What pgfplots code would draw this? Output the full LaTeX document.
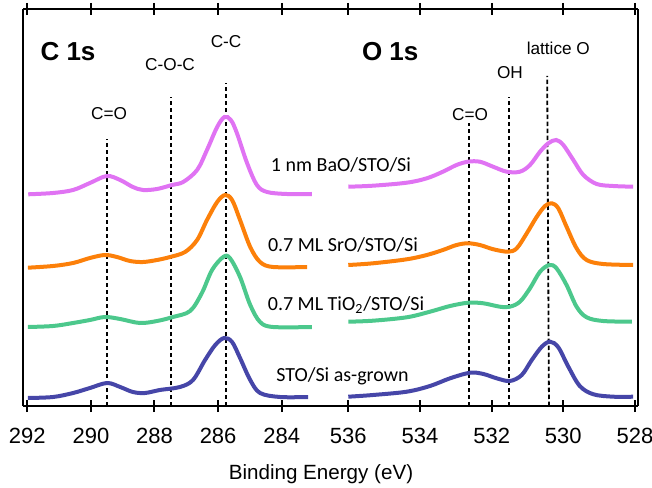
\documentclass[border=0pt]{standalone}
\usepackage{pgfplots}
\pgfplotsset{compat=1.18}
\usepackage{fontspec}
\setmainfont{Liberation Sans}
\newfontfamily\calibri{Carlito}

\definecolor{cBaO}{RGB}{224,115,243}
\definecolor{cSrO}{RGB}{252,128,10}
\definecolor{cTiO}{RGB}{76,200,140}
\definecolor{cSTO}{RGB}{70,70,168}

\pgfplotsset{
  xps/.style={
    scale only axis, height=198.5pt,
    ymin=0, ymax=397, ytick=\empty,
    x dir=reverse,
    axis line style={line width=1pt},
    every tick/.style={black, line width=1pt},
    tick align=center, major tick length=6pt,
    xtick pos=both, xticklabel pos=lower,
    tick label style={font=\fontsize{11}{13}\selectfont},
    xticklabel style={yshift=-4.5pt},
    /pgf/number format/assume math mode=true,
    clip=false,
  },
  spec/.style={smooth, tension=0.55, line width=2pt, no markers},
  ref/.style={black, line width=0.9pt, dash pattern=on 2.2pt off 1.3pt},
}
\tikzset{ann/.style={font=\fontsize{8.6}{10}\selectfont}}

\begin{document}
\begin{tikzpicture}
\path[use as bounding box] (0,0) rectangle (326pt,243.5pt);

% C 1s
\begin{axis}[xps, at={(11.5pt,40.5pt)}, anchor=south west, width=156pt,
  xmin=282.324, xmax=292.135, xtick={284,286,288,290,292},
  axis x line*=box, axis y line*=left]
\addplot[ref] coordinates {(289.50,0) (289.50,267)};
\addplot[ref] coordinates {(287.48,0) (287.48,309)};
\addplot[ref] coordinates {(285.76,0) (285.76,323)};
\addplot[spec, cBaO] coordinates {
(291.97,211.7) (291.19,213) (290.56,216) (290.03,223) (289.50,230) (289.08,226)
(288.68,219) (288.36,216) (287.92,217) (287.45,221) (287.10,224) (286.66,236)
(286.35,256) (286.03,279) (285.80,289) (285.60,286) (285.41,273) (285.09,243)
(284.78,221) (284.46,214) (283.84,212) (283.05,212)};
\addplot[spec, cSrO] coordinates {
(291.98,138.3) (291.19,140) (290.56,143) (290.03,148) (289.56,151) (289.18,149)
(288.77,145) (288.36,144) (287.92,146) (287.51,149) (287.04,154) (286.66,166)
(286.35,186) (286.03,204) (285.78,211) (285.56,206) (285.31,186) (284.99,159)
(284.68,144) (284.27,139) (283.20,139)};
\addplot[spec, cTiO] coordinates {
(291.98,79) (291.19,80) (290.56,83) (290.03,86) (289.56,89) (289.08,87)
(288.46,83) (287.92,85) (287.42,89) (286.88,95) (286.51,113) (286.19,136)
(285.84,149) (285.63,148) (285.31,129) (284.99,101) (284.68,84) (284.27,79)
(283.05,79)};
\addplot[spec, cSTO] coordinates {
(291.98,8) (291.19,9) (290.56,13) (290.03,18) (289.49,23) (289.08,19)
(288.68,14) (288.30,13) (287.83,16) (287.20,19) (286.79,26) (286.41,46)
(286.09,61) (285.81,68) (285.56,64) (285.31,48) (284.99,26) (284.68,13)
(284.05,9) (283.17,9)};
\node[font=\bfseries\fontsize{13}{15}\selectfont] at (axis cs:290.72,354) {C 1s};
\node[ann] at (axis cs:289.43,292) {C=O};
\node[ann] at (axis cs:287.51,341) {C-O-C};
\node[ann] at (axis cs:285.75,364) {C-C};
\end{axis}

% O 1s
\begin{axis}[xps, at={(167.5pt,40.5pt)}, anchor=south west, width=151.5pt,
  xmin=527.916, xmax=536.371, xtick={528,530,532,534,536},
  axis x line*=box, axis y line*=right]
\addplot[ref] coordinates {(532.63,0) (532.63,283)};
\addplot[ref] coordinates {(531.51,0) (531.51,309)};
\addplot[ref] coordinates {(530.40,0) (530.45,330)};
\addplot[spec, cBaO] coordinates {
(536.00,219.3) (535.31,220.3) (534.37,223.3) (533.81,227.7) (533.36,234.3)
(532.98,241) (532.66,244.3) (532.33,244.3) (531.96,239.3) (531.58,234.3)
(531.21,234.3) (530.93,241) (530.65,254.3) (530.42,262.7) (530.20,266)
(530.00,261) (529.72,246) (529.44,231) (529.07,222) (528.61,220) (528.05,219.3)};
\addplot[spec, cSrO] coordinates {
(536.00,141) (535.31,142.7) (534.37,146.7) (533.81,151) (533.36,156)
(532.98,161) (532.66,162.7) (532.33,161) (531.95,156.7) (531.54,154.3)
(531.30,157.7) (531.02,172.7) (530.74,189.3) (530.51,200) (530.32,202.7)
(530.14,197.7) (529.91,179.3) (529.63,157.7) (529.35,146) (528.89,142) (528.05,141)};
\addplot[spec, cTiO] coordinates {
(536.00,84.3) (535.31,85.3) (534.37,88.7) (533.72,94.3) (533.16,100)
(532.65,103.3) (532.23,102.7) (531.77,99.3) (531.49,99.3) (531.21,104.3)
(530.93,117.7) (530.65,134.3) (530.39,141) (530.19,137.7) (529.91,121)
(529.63,99.3) (529.35,88.7) (528.89,85) (528.09,84.3)};
\addplot[spec, cSTO] coordinates {
(536.00,9.3) (535.31,11) (534.37,14.3) (533.72,20) (533.16,27.7)
(532.60,33.3) (532.23,32) (531.86,27.7) (531.49,25) (531.16,31)
(530.88,46) (530.60,59.3) (530.37,64.3) (530.14,58.7) (529.86,39.3)
(529.54,20) (529.16,11.7) (528.61,9.3) (528.05,9.3)};
\node[font=\bfseries\fontsize{13}{15}\selectfont] at (axis cs:534.83,354) {O 1s};
\node[ann] at (axis cs:532.60,291) {C=O};
\node[ann] at (axis cs:531.49,333) {OH};
\node[ann] at (axis cs:530.14,358) {lattice O};
\end{axis}

\begin{scope}[every node/.style={font=\calibri\fontsize{10}{12}\selectfont}]
\node at (170.5pt,161pt) {1 nm BaO/STO/Si};
\node at (171.5pt,121.25pt) {0.7 ML SrO/STO/Si};
\node at (173pt,91pt) {0.7 ML TiO\textsubscript{2}/STO/Si};
\node at (171.25pt,55.25pt) {STO/Si as-grown};
\end{scope}
\node[font=\fontsize{10.3}{12}\selectfont] at (160.5pt,6.5pt) {Binding Energy (eV)};
\end{tikzpicture}
\end{document}
